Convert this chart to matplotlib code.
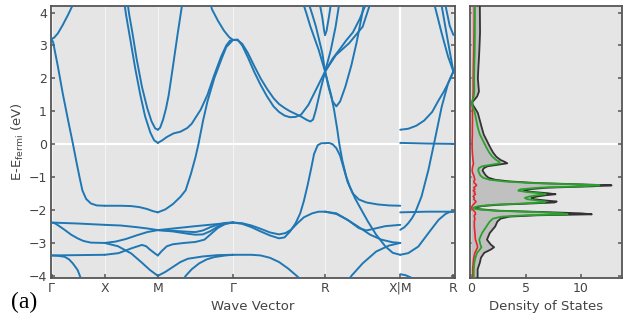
import numpy as np
import matplotlib.pyplot as plt

# k-path through the simple cubic zone, segment lengths in units of 2*pi/a
kpath_labels = ['Γ', 'X', 'M', 'Γ', 'R', 'X|M', 'R']
kpath_lengths = [0.5, 0.5, 0.7071, 0.8660, 0.7071, 0.5]

# bands per segment: (fraction along segment, E - E_fermi in eV)
bands_GX = [
    [(0, 3.2), (0.05, 3.24), (0.12, 3.37), (0.21, 3.62), (0.31, 3.93), (0.39, 4.2), (0.45, 4.45)],
    [(0, 3.2), (0.03, 3.1), (0.12, 2.36), (0.21, 1.55), (0.31, 0.74), (0.4, 0.03), (0.47, -0.55),
     (0.52, -0.95), (0.58, -1.4), (0.65, -1.66), (0.74, -1.8), (0.85, -1.86), (1, -1.87)],
    [(0, -2.38), (0.5, -2.41), (1, -2.45)],
    [(0, -2.38), (0.06, -2.4), (0.12, -2.46), (0.245, -2.6), (0.37, -2.75), (0.49, -2.86),
     (0.6, -2.94), (0.74, -2.99), (1, -3.0)],
    [(0, -3.38), (0.5, -3.37), (1, -3.36)],
    [(0, -3.38), (0.12, -3.39), (0.245, -3.42), (0.33, -3.5), (0.4, -3.62), (0.49, -3.82), (0.55, -4.07), (0.58, -4.2)],
]

bands_XM = [
    [(0.37, 4.3), (0.4, 3.95), (0.48, 3.2), (0.575, 2.3), (0.67, 1.5), (0.76, 0.85), (0.86, 0.35), (0.93, 0.12), (1, 0.04)],
    [(0.43, 4.3), (0.46, 3.95), (0.52, 3.4), (0.6, 2.6), (0.7, 1.75), (0.8, 1.1), (0.88, 0.7), (0.95, 0.48), (1, 0.44)],
    [(0, -1.87), (0.3, -1.87), (0.5, -1.88), (0.65, -1.91), (0.8, -1.97), (0.9, -2.03), (1, -2.07)],
    [(0, -2.45), (0.3, -2.47), (0.6, -2.52), (0.8, -2.56), (1, -2.61)],
    [(0, -3.0), (0.2, -2.96), (0.4, -2.88), (0.6, -2.77), (0.8, -2.67), (1, -2.61)],
    [(0, -3.36), (0.26, -3.31), (0.51, -3.16), (0.7, -3.06), (0.78, -3.1), (0.85, -3.2), (0.93, -3.3), (1, -3.38)],
    [(0, -3.0), (0.25, -3.1), (0.5, -3.32), (0.7, -3.6), (0.85, -3.82), (1, -4.0)],
]

bands_MG = [
    [(0, 0.44), (0.03, 0.5), (0.07, 0.75), (0.11, 1.1), (0.145, 1.5), (0.2, 2.35), (0.26, 3.3), (0.32, 4.2), (0.34, 4.4)],
    [(0, 0.04), (0.06, 0.12), (0.12, 0.22), (0.21, 0.33), (0.3, 0.38), (0.39, 0.49), (0.45, 0.62), (0.5, 0.8),
     (0.57, 1.05), (0.66, 1.5), (0.75, 2.1), (0.84, 2.65), (0.91, 3.0), (0.96, 3.15), (1, 3.17)],
    [(0, -2.07), (0.1, -1.98), (0.2, -1.82), (0.3, -1.6), (0.37, -1.4), (0.44, -0.9), (0.5, -0.4), (0.54, 0.0),
     (0.6, 0.7), (0.66, 1.3), (0.75, 2.0), (0.84, 2.55), (0.91, 2.95), (1, 3.17)],
    [(0.69, 4.35), (0.72, 4.1), (0.8, 3.75), (0.88, 3.45), (0.95, 3.25), (1, 3.17)],
    [(0, -2.61), (0.5, -2.49), (1, -2.38)],
    [(0, -2.61), (0.2, -2.65), (0.4, -2.72), (0.5, -2.75), (0.6, -2.74), (0.7, -2.64), (0.8, -2.5), (0.9, -2.41), (1, -2.38)],
    [(0, -2.61), (0.2, -2.63), (0.4, -2.66), (0.5, -2.67), (0.6, -2.62), (0.7, -2.52), (0.8, -2.44), (0.9, -2.39), (1, -2.38)],
    [(0, -3.38), (0.05, -3.25), (0.12, -3.1), (0.2, -3.04), (0.35, -3.0), (0.5, -2.97), (0.62, -2.9), (0.72, -2.7),
     (0.8, -2.54), (0.9, -2.42), (1, -2.38)],
    [(0, -4.0), (0.1, -3.88), (0.2, -3.73), (0.3, -3.58), (0.4, -3.48), (0.6, -3.41), (0.8, -3.37), (1, -3.36)],
    [(0.33, -4.15), (0.37, -4.0), (0.45, -3.8), (0.55, -3.62), (0.65, -3.5), (0.75, -3.43), (0.9, -3.38), (1, -3.36)],
]

bands_GR = [
    [(0, 3.17), (0.05, 3.18), (0.1, 3.0), (0.16, 2.65), (0.23, 2.2), (0.3, 1.8), (0.37, 1.45), (0.44, 1.15),
     (0.5, 0.98), (0.56, 0.87), (0.62, 0.82), (0.68, 0.83), (0.74, 0.9), (0.82, 1.2), (0.9, 1.65), (1, 2.21)],
    [(0, 3.17), (0.05, 3.16), (0.1, 3.05), (0.16, 2.78), (0.23, 2.38), (0.3, 2.0), (0.37, 1.68), (0.44, 1.4),
     (0.5, 1.22), (0.56, 1.1), (0.62, 1.0), (0.68, 0.92), (0.74, 0.84), (0.8, 0.74), (0.84, 0.69), (0.87, 0.75),
     (0.9, 1.04), (0.95, 1.65), (1, 2.21)],
    [(0.76, 4.3), (0.8, 3.95), (0.84, 3.58), (0.93, 2.87), (1, 2.21)],
    [(0.82, 4.3), (0.86, 3.95), (0.9, 3.58), (0.97, 2.77), (1, 2.21)],
    [(0.94, 4.3), (0.97, 3.85), (0.99, 3.45), (1, 3.32)],
    [(0, -2.38), (0.1, -2.42), (0.2, -2.52), (0.3, -2.65), (0.4, -2.77), (0.5, -2.86), (0.56, -2.83), (0.62, -2.65),
     (0.68, -2.4), (0.73, -2.1), (0.77, -1.72), (0.81, -1.25), (0.85, -0.72), (0.88, -0.3), (0.92, -0.03),
     (0.96, 0.03), (1, 0.03)],
    [(0, -2.38), (0.1, -2.4), (0.2, -2.47), (0.3, -2.57), (0.4, -2.68), (0.5, -2.74), (0.57, -2.7), (0.63, -2.6),
     (0.7, -2.4), (0.77, -2.22), (0.86, -2.1), (0.93, -2.05), (1, -2.05)],
    [(0, -3.36), (0.2, -3.36), (0.3, -3.38), (0.4, -3.45), (0.5, -3.58), (0.6, -3.78), (0.7, -4.02), (0.75, -4.15)],
]

bands_RX = [
    [(0, 3.32), (0.02, 3.45), (0.05, 3.85), (0.08, 4.3)],
    [(0, 2.21), (0.077, 2.87), (0.14, 3.57), (0.19, 4.3)],
    [(0, 2.21), (0.1, 2.6), (0.19, 2.87), (0.28, 3.15), (0.37, 3.4), (0.46, 3.8), (0.55, 4.3)],
    [(0, 2.21), (0.144, 2.71), (0.32, 3.07), (0.5, 3.57), (0.59, 4.2), (0.62, 4.4)],
    [(0, 2.21), (0.05, 1.7), (0.1, 1.3), (0.15, 1.15), (0.2, 1.3), (0.27, 1.75), (0.35, 2.4), (0.42, 3.1),
     (0.48, 3.8), (0.52, 4.3)],
    [(0, 0.03), (0.05, 0.04), (0.1, 0.0), (0.15, -0.12), (0.2, -0.35), (0.25, -0.75), (0.3, -1.15), (0.37, -1.5),
     (0.45, -1.68), (0.55, -1.77), (0.7, -1.83), (0.85, -1.86), (1, -1.87)],
    [(0, 2.21), (0.04, 1.85), (0.08, 1.5), (0.12, 1.04), (0.16, 0.48), (0.19, 0.0), (0.23, -0.5), (0.28, -0.97),
     (0.33, -1.3), (0.4, -1.65), (0.46, -1.9), (0.57, -2.35), (0.68, -2.75), (0.8, -3.1), (0.9, -3.3), (1, -3.36)],
    [(0, -2.05), (0.15, -2.1), (0.3, -2.3), (0.45, -2.55), (0.55, -2.62), (0.65, -2.57), (0.8, -2.49), (1, -2.45)],
    [(0, -2.05), (0.15, -2.12), (0.3, -2.3), (0.45, -2.52), (0.6, -2.75), (0.75, -2.9), (0.9, -2.98), (1, -3.0)],
    [(0.32, -4.1), (0.35, -4.0), (0.5, -3.62), (0.68, -3.26), (0.85, -3.08), (1, -3.0)],
]

bands_MR = [
    [(0, 0.44), (0.15, 0.47), (0.3, 0.56), (0.45, 0.72), (0.6, 0.98), (0.72, 1.33), (0.82, 1.6), (0.9, 1.85), (1, 2.21)],
    [(0, 0.04), (0.5, 0.02), (1, 0.01)],
    [(0, -2.07), (0.5, -2.05), (1, -2.05)],
    [(0, -2.6), (0.08, -2.52), (0.15, -2.4), (0.22, -2.25), (0.28, -2.08), (0.4, -1.59), (0.53, -0.78),
     (0.65, 0.13), (0.78, 1.14), (0.9, 1.85), (1, 2.21)],
    [(0, -3.36), (0.15, -3.31), (0.34, -3.11), (0.53, -2.7), (0.72, -2.3), (0.85, -2.12), (0.93, -2.06), (1, -2.05)],
    [(0, -3.95), (0.1, -3.98), (0.2, -4.05), (0.28, -4.15)],
    [(0.65, 4.2), (0.78, 3.37), (0.9, 2.66), (1, 2.21)],
    [(0.78, 4.2), (0.87, 3.37), (0.95, 2.65), (1, 2.21)],
    [(0.84, 4.3), (0.93, 3.6), (1, 3.32)],
]

segments = [bands_GX, bands_XM, bands_MG, bands_GR, bands_RX, bands_MR]

# density of states: energy grid, total, and two projections
dos_energy = [4.2, 3.4, 2.8, 2.4, 2.0, 1.6, 1.45, 1.35, 1.28, 1.2, 1.1, 0.95, 0.7, 0.5, 0.3, 0.1, -0.1, -0.25,
              -0.38, -0.48, -0.54, -0.58, -0.62, -0.67, -0.73, -0.8, -0.88, -0.95, -1.02, -1.08, -1.13, -1.18,
              -1.22, -1.25, -1.28, -1.32, -1.37, -1.41, -1.45, -1.49, -1.52, -1.55, -1.59, -1.63, -1.67, -1.71,
              -1.74, -1.77, -1.8, -1.84, -1.88, -1.93, -1.97, -2.02, -2.06, -2.1, -2.13, -2.16, -2.2, -2.26,
              -2.35, -2.5, -2.7, -2.9, -3.05, -3.13, -3.2, -3.3, -3.45, -3.6, -3.8, -4.05]
dos_total = [0.8, 0.82, 0.75, 0.68, 0.62, 0.72, 0.55, 0.3, 0.12, 0.15, 0.35, 0.62, 0.82, 0.98, 1.15, 1.45, 1.75,
             2.0, 2.3, 2.7, 3.1, 3.3, 2.5, 1.5, 1.15, 1.05, 1.2, 1.35, 1.6, 2.2, 3.5, 6.0, 10.0, 12.8, 11.0, 7.0,
             5.2, 4.8, 5.6, 7.0, 7.7, 6.8, 6.0, 5.5, 5.7, 6.8, 7.8, 7.6, 5.5, 2.5, 1.0, 0.35, 0.6, 2.5, 6.5,
             10.0, 11.0, 6.0, 3.5, 2.7, 2.4, 2.2, 1.7, 1.45, 1.8, 2.1, 1.8, 1.2, 0.9, 0.8, 0.6, 0.6]
dos_green = [0.35, 0.35, 0.33, 0.3, 0.28, 0.3, 0.25, 0.15, 0.08, 0.1, 0.2, 0.35, 0.5, 0.62, 0.8, 1.1, 1.4, 1.65,
             1.95, 2.3, 2.6, 2.6, 1.9, 1.0, 0.7, 0.65, 0.75, 0.85, 1.1, 1.7, 3.0, 5.5, 9.5, 11.7, 10.0, 6.2, 4.5,
             4.3, 5.0, 6.3, 6.8, 6.0, 5.3, 4.9, 5.1, 6.0, 6.8, 6.6, 4.8, 2.0, 0.7, 0.2, 0.4, 2.1, 5.8, 8.3, 8.8,
             5.0, 2.8, 2.0, 1.7, 1.4, 1.0, 0.75, 0.85, 0.95, 0.8, 0.55, 0.4, 0.3, 0.25, 0.25]
dos_red = [0.3, 0.28, 0.25, 0.22, 0.2, 0.2, 0.18, 0.15, 0.1, 0.1, 0.12, 0.13, 0.13, 0.12, 0.12, 0.1, 0.1, 0.12,
           0.15, 0.18, 0.2, 0.22, 0.2, 0.15, 0.12, 0.1, 0.15, 0.25, 0.3, 0.35, 0.25, 0.3, 0.45, 0.5, 0.4, 0.25,
           0.35, 0.2, 0.35, 0.3, 0.4, 0.3, 0.2, 0.3, 0.25, 0.35, 0.45, 0.4, 0.3, 0.2, 0.1, 0.05, 0.1, 0.25, 0.35,
           0.4, 0.4, 0.3, 0.3, 0.35, 0.3, 0.3, 0.35, 0.4, 0.55, 0.6, 0.5, 0.35, 0.25, 0.2, 0.15, 0.15]

bg = '#e5e5e5'
frame = '#555555'
txt = '#444444'
band_color = '#1f77b4'
ylim = (-4.05, 4.2)

fig = plt.figure(figsize=(6.23, 3.24), dpi=100)
W, H = 623, 324
ax = fig.add_axes([51 / W, 1 - 277.5 / H, (455 - 51) / W, (277.5 - 6) / H])
ax2 = fig.add_axes([469.5 / W, 1 - 277.5 / H, (622 - 469.5) / W, (277.5 - 6) / H])

knodes = np.concatenate([[0], np.cumsum(kpath_lengths)])

# band structure
ax.set_facecolor(bg)
for kx in knodes:
    ax.axvline(kx, color='white', lw=0.8, alpha=0.6, zorder=0)
ax.axvline(knodes[5], color='white', lw=1.6, zorder=1)
ax.axhline(0, color='white', lw=1.5, zorder=1)
for i, seg in enumerate(segments):
    k0, k1 = knodes[i], knodes[i + 1]
    for band in seg:
        t, e = np.array(band).T
        ax.plot(k0 + t * (k1 - k0), e, color=band_color, lw=1.4, zorder=3,
                solid_joinstyle='round', solid_capstyle='round')
ax.set_xlim(knodes[0] - 0.005, knodes[-1] + 0.015)
ax.set_ylim(*ylim)
ax.set_xticks(knodes)
ax.set_xticklabels(kpath_labels)
ax.set_yticks(range(-4, 5))
ax.set_xlabel('Wave Vector', color=txt, fontsize=9.5, labelpad=4)
ax.set_ylabel(r'E-E$_{\mathrm{fermi}}$ (eV)', color=txt, fontsize=9.5, labelpad=2)

# density of states
ax2.set_facecolor(bg)
ax2.axhline(0, color='white', lw=1.5, zorder=1)
ax2.fill_betweenx(dos_energy, 0, dos_total, color='#c0c0c0', lw=0, zorder=2)
ax2.plot(dos_total, dos_energy, color='#333333', lw=1.3, zorder=3)
ax2.plot(dos_red, dos_energy, color='#e8262a', lw=1.2, zorder=4)
ax2.plot(dos_green, dos_energy, color='#2ca02c', lw=1.3, zorder=5)
ax2.set_xlim(-0.14, 13.75)
ax2.set_ylim(*ylim)
ax2.set_xticks([0, 5, 10])
ax2.set_yticks(range(-4, 5))
ax2.set_yticklabels([])
ax2.set_xlabel('Density of States', color=txt, fontsize=9.5, labelpad=4)

for a in (ax, ax2):
    for s in a.spines.values():
        s.set_color(frame)
        s.set_linewidth(1.3)
    a.tick_params(direction='in', length=3, width=1.1, color=frame, labelcolor=txt,
                  labelsize=9, left=True, right=True, bottom=True, top=False, pad=3)

fig.text(0.018, 0.05, '(a)', fontsize=17, family='Liberation Serif', color='black')

fig.savefig('out.png', dpi=100)
